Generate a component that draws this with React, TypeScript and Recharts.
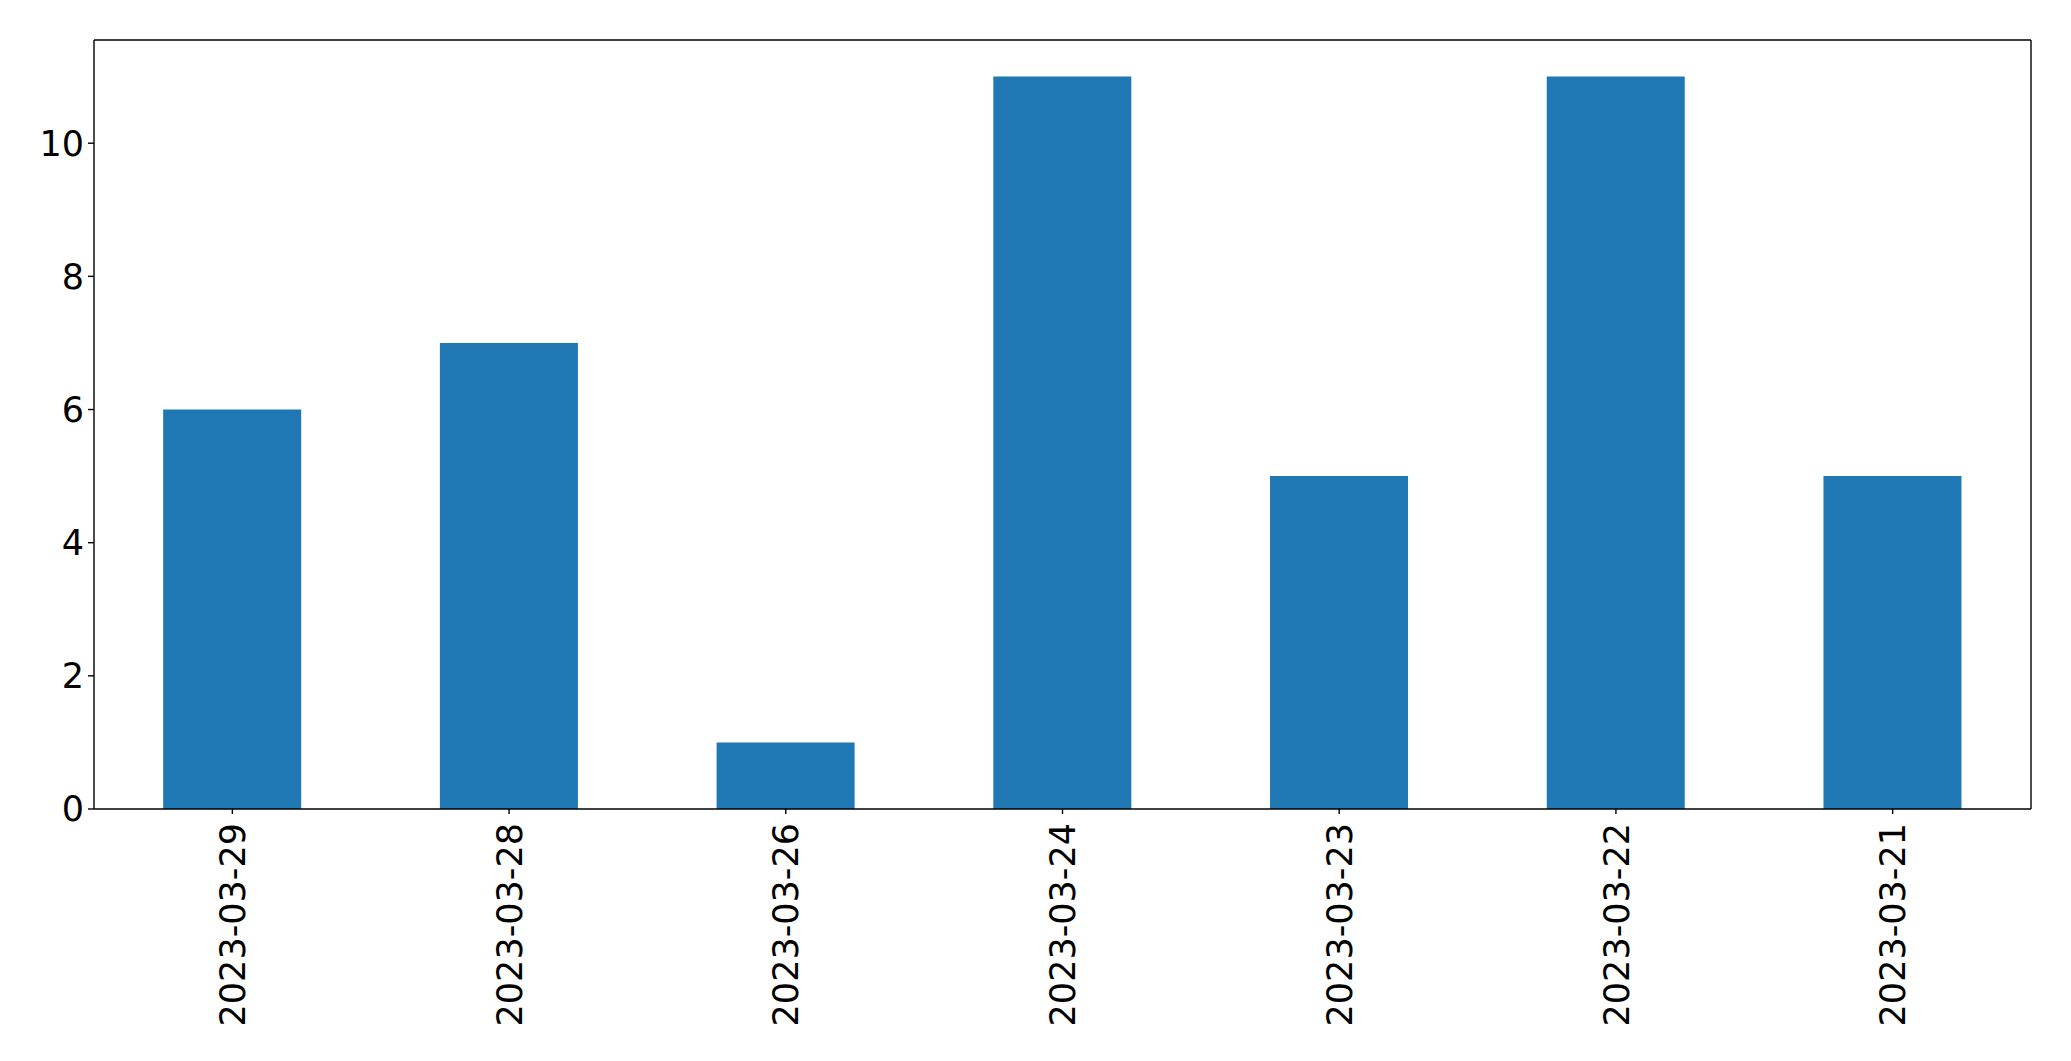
import React from "react";
import { BarChart, Bar, XAxis, YAxis } from "recharts";

const dates = ["2023-03-29", "2023-03-28", "2023-03-26", "2023-03-24", "2023-03-23", "2023-03-22", "2023-03-21"];
const counts = [6, 7, 1, 11, 5, 11, 5];
const yTicks = [0, 2, 4, 6, 8, 10];

const data = dates.map((date, i) => ({ date, count: counts[i] }));

const FONT = "'DejaVu Sans', sans-serif";

function DateTick(props: any) {
    const { x, y, payload } = props;
    return (
        <text
            x={x}
            y={y}
            transform={`rotate(-90, ${x}, ${y})`}
            textAnchor="end"
            dy="0.36em"
            fontFamily={FONT}
            fontSize={35}
            fill="#000"
        >
            {payload.value}
        </text>
    );
}

export default function App() {
    return (
        <div style={{ width: 2071, height: 1061, background: "#fff" }}>
            <style>{`body { margin: 0; }`}</style>
            <BarChart
                width={2071}
                height={1061}
                data={data}
                margin={{ top: 39, right: 39, left: 0, bottom: 0 }}
                barCategoryGap="25%"
            >
                <XAxis
                    dataKey="date"
                    height={252}
                    stroke="#000"
                    strokeWidth={1.4}
                    tickSize={5}
                    tickMargin={9}
                    tick={<DateTick />}
                    interval={0}
                />
                <XAxis
                    xAxisId="top"
                    dataKey="date"
                    orientation="top"
                    height={1}
                    stroke="#000"
                    strokeWidth={1.4}
                    tick={false}
                    tickLine={false}
                />
                <YAxis
                    width={94}
                    domain={[0, 11.55]}
                    ticks={yTicks}
                    stroke="#000"
                    strokeWidth={1.4}
                    tickSize={6}
                    tickMargin={4}
                    tick={{ fill: "#000", fontSize: 35, fontFamily: FONT }}
                />
                <YAxis
                    yAxisId="right"
                    orientation="right"
                    width={1}
                    domain={[0, 11.55]}
                    stroke="#000"
                    strokeWidth={1.4}
                    tick={false}
                    tickLine={false}
                />
                <Bar dataKey="count" fill="#1f77b4" isAnimationActive={false} />
            </BarChart>
        </div>
    );
}
